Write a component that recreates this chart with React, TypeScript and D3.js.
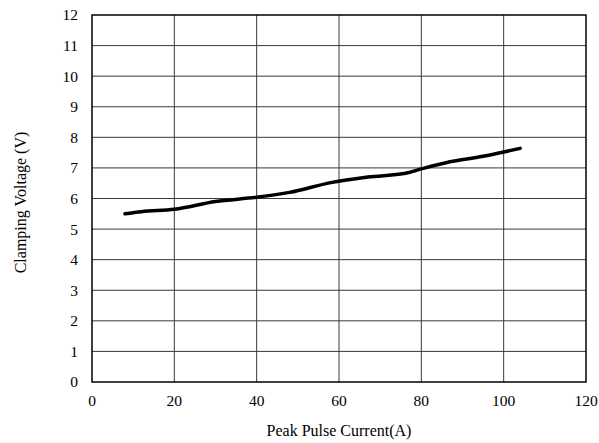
import * as d3 from "d3";

const currents = [8, 12, 20, 30, 40, 48, 58, 67, 77, 80, 86, 95, 100, 104];
const voltages = [5.5, 5.57, 5.65, 5.9, 6.04, 6.2, 6.52, 6.7, 6.85, 6.97, 7.17, 7.38, 7.52, 7.64];
const xTicks = [0, 20, 40, 60, 80, 100, 120];
const yTicks = [0, 1, 2, 3, 4, 5, 6, 7, 8, 9, 10, 11, 12];

const W = 599;
const H = 443;
const m = { top: 15, right: 13, bottom: 61, left: 92 };

export default function App() {
  const x = d3.scaleLinear().domain([0, 120]).range([m.left, W - m.right]);
  const y = d3.scaleLinear().domain([0, 12]).range([H - m.bottom, m.top]);
  const pts = currents.map((c, i) => [c, voltages[i]] as [number, number]);
  const line = d3
    .line<[number, number]>()
    .x((d) => x(d[0]))
    .y((d) => y(d[1]))
    .curve(d3.curveMonotoneX);
  const font = "'Liberation Serif', 'Times New Roman', serif";

  return (
    <svg width={W} height={H} style={{ position: "absolute", left: 0, top: 0 }} fontFamily={font}>
      <rect width={W} height={H} fill="#fff" />
      {xTicks.slice(1, -1).map((t) => (
        <line key={"gx" + t} x1={x(t)} x2={x(t)} y1={y(0)} y2={y(12)} stroke="#3a3a3a" strokeWidth={1} />
      ))}
      {yTicks.slice(1, -1).map((t) => (
        <line key={"gy" + t} x1={x(0)} x2={x(120)} y1={y(t)} y2={y(t)} stroke="#3a3a3a" strokeWidth={1} />
      ))}
      <rect x={x(0)} y={y(12)} width={x(120) - x(0)} height={y(0) - y(12)} fill="none" stroke="#000" strokeWidth={1.5} />
      <path d={line(pts) || ""} fill="none" stroke="#000" strokeWidth={3.5} strokeLinecap="round" strokeLinejoin="round" />
      {yTicks.map((t) => (
        <text key={"ty" + t} x={x(0) - 14} y={y(t)} dy="0.35em" textAnchor="end" fontSize={15.5}>
          {t}
        </text>
      ))}
      {xTicks.map((t) => (
        <text key={"tx" + t} x={x(t)} y={y(0) + 24} textAnchor="middle" fontSize={15.5}>
          {t}
        </text>
      ))}
      <text x={(x(0) + x(120)) / 2} y={436} textAnchor="middle" fontSize={16}>
        Peak Pulse Current(A)
      </text>
      <text transform={`translate(26, ${(y(0) + y(12)) / 2 + 4}) rotate(-90)`} textAnchor="middle" fontSize={16}>
        Clamping Voltage (V)
      </text>
    </svg>
  );
}
